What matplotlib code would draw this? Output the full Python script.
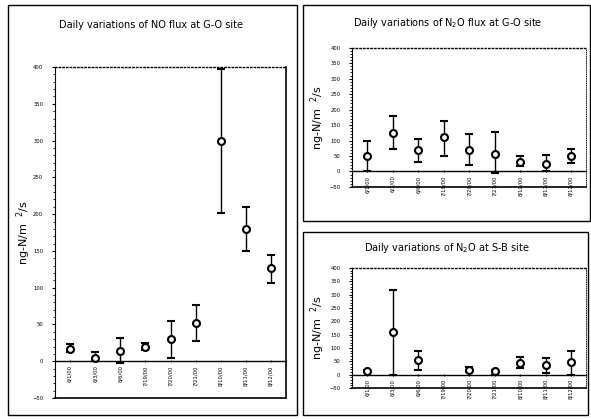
import numpy as np
import matplotlib.pyplot as plt
from matplotlib.patches import Rectangle
from matplotlib.ticker import MultipleLocator

dates = ['6/1/00', '6/3/00', '6/6/00', '7/19/00', '7/20/00',
         '7/21/00', '8/10/00', '8/11/00', '8/12/00']

# NO flux, G-O site
no_go_mean = [17, 5, 14, 20, 30, 52, 300, 180, 127]
no_go_low = [12, 0, -2, 15, 5, 27, 202, 150, 107]
no_go_high = [24, 12, 32, 25, 55, 76, 398, 210, 145]

# N2O flux, G-O site
n2o_go_mean = [49, 124, 68, 110, 70, 57, 29, 25, 51]
n2o_go_low = [0, 72, 31, 51, 22, -5, 16, 0, 27]
n2o_go_high = [97, 178, 105, 163, 121, 126, 49, 54, 72]

# N2O, S-B site (no sample on 7/19/00)
n2o_sb_mean = [13, 159, 54, np.nan, 19, 12, 43, 35, 49]
n2o_sb_low = [9, 0, 17, np.nan, 9, 0, 26, 6, 0]
n2o_sb_high = [16, 319, 90, np.nan, 30, 19, 67, 62, 89]

fig = plt.figure(figsize=(5.91, 4.19), dpi=100)

# panel frames (pixel boxes of the scanned page)
W, H = 591, 419
for x0, y0, x1, y1 in [(8, 5, 297, 415), (303, 5, 590, 221), (303, 232, 588, 415)]:
    fig.add_artist(Rectangle((x0 / W, 1 - y1 / H), (x1 - x0) / W, (y1 - y0) / H,
                             transform=fig.transFigure, fill=False, lw=1.0, color='black'))


def panel(rect, mean, low, high, title, title_pos, label_x, fs_tick=3.8):
    ax = fig.add_axes(rect)
    mean = np.array(mean, dtype=float)
    low = np.array(low, dtype=float)
    high = np.array(high, dtype=float)
    x = np.arange(len(dates))
    ax.errorbar(x, mean, yerr=[mean - low, high - mean], fmt='o', mfc='white',
                mec='black', ms=5, mew=1.5, ecolor='black', elinewidth=1.0,
                capsize=3.2, capthick=3, color='black')
    ax.set_xlim(-0.6, len(dates) - 0.4)
    ax.set_ylim(-50, 400)
    ax.yaxis.set_major_locator(MultipleLocator(50))
    ax.yaxis.set_minor_locator(MultipleLocator(10))
    ax.tick_params(axis='y', labelsize=fs_tick, length=2.5, width=0.8, pad=6)
    ax.tick_params(axis='y', which='minor', length=1.5, width=0.6)
    ax.set_xticks(x, dates)
    ax.tick_params(axis='x', length=2, width=0.8, direction='inout', pad=2,
                   labelsize=fs_tick, labelrotation=90)
    ax.spines['bottom'].set_position(('data', 0))
    ax.spines['bottom'].set_linewidth(1.0)
    ax.spines['top'].set_linestyle(':')
    ax.spines['top'].set_linewidth(1.0)
    ax.axhline(-50, color='black', lw=1.2, clip_on=False)
    ax.set_ylabel('ng-N/m  $^2$/s', fontsize=8)
    ax.yaxis.set_label_coords(label_x, 0.5)
    fig.text(title_pos[0], title_pos[1], title, ha='center', va='center', fontsize=7)
    return ax


ax1 = panel([0.093, 0.050, 0.391, 0.790], no_go_mean, no_go_low, no_go_high,
            'Daily variations of NO flux at G-O site', (0.255, 0.94), -0.097)
ax1.spines['right'].set_linewidth(1.2)

ax2 = panel([0.596, 0.554, 0.396, 0.332], n2o_go_mean, n2o_go_low, n2o_go_high,
            'Daily variations of N$_2$O flux at G-O site', (0.757, 0.945), -0.106)
ax2.spines['right'].set_linestyle(':')
ax2.spines['right'].set_linewidth(0.6)

ax3 = panel([0.596, 0.074, 0.396, 0.286], n2o_sb_mean, n2o_sb_low, n2o_sb_high,
            'Daily variations of N$_2$O at S-B site', (0.757, 0.408), -0.106)
ax3.spines['right'].set_linestyle(':')
ax3.spines['right'].set_linewidth(0.6)

fig.savefig('out.png', dpi=100)
